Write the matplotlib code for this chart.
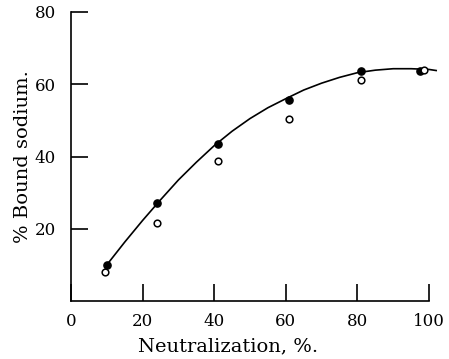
import matplotlib
matplotlib.use('Agg')
import matplotlib.pyplot as plt

# 数据：中和度 (%) 与结合钠 (%)
neut_filled = [10, 24, 41, 61, 81, 97.5]
bound_filled = [10, 27, 43.5, 55.6, 63.7, 63.8]

neut_open = [9.5, 24, 41, 61, 81, 98.5]
bound_open = [7.9, 21.5, 38.7, 50.3, 61.2, 63.9]

# 光滑曲线（读取自图）
curve_x = [10, 15, 20, 25, 30, 35, 40, 45, 50, 55, 60, 65, 70, 75, 80, 85, 90, 95, 100, 102]
curve_y = [10, 16.3, 22.3, 28, 33.5, 38.4, 43, 47, 50.5, 53.5, 56, 58.4, 60.3, 61.9,
           63.2, 63.9, 64.3, 64.3, 64.1, 63.8]

x_ticks = [0, 20, 40, 60, 80, 100]
y_ticks = [20, 40, 60, 80]

plt.rcParams['font.family'] = ['DejaVu Serif']

fig = plt.figure(figsize=(4.49, 3.59), dpi=100)
ax = fig.add_axes([71 / 449, 58 / 359, 358 / 449, 289 / 359])

ax.plot(curve_x, curve_y, color='black', linewidth=1.2, clip_on=False)
ax.plot(neut_filled, bound_filled, 'o', color='black', markersize=5.2, clip_on=False)
ax.plot(neut_open, bound_open, 'o', markerfacecolor='white', markeredgecolor='black',
        markeredgewidth=1.1, markersize=4.8, clip_on=False)

ax.set_xlim(0, 100)
ax.set_ylim(0, 80)
ax.set_xticks(x_ticks)
ax.set_yticks(y_ticks)

ax.spines['top'].set_visible(False)
ax.spines['right'].set_visible(False)
for s in ['left', 'bottom']:
    ax.spines[s].set_linewidth(1.2)

ax.tick_params(axis='both', direction='in', length=12, width=1.2, labelsize=12)
ax.tick_params(axis='x', pad=9)
ax.tick_params(axis='y', pad=11)

ax.set_xlabel('Neutralization, %.', fontsize=14)
ax.set_ylabel('% Bound sodium.', fontsize=14)
ax.xaxis.set_label_coords(0.4385, -0.125)
ax.yaxis.set_label_coords(-0.11, 0.5)

plt.savefig('out.png', dpi=100)
plt.close()
